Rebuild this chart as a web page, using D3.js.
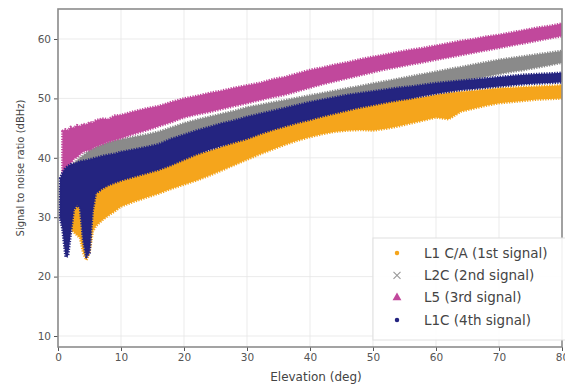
<!DOCTYPE html>
<html>
<head>
<meta charset="utf-8">
<script src="https://cdn.jsdelivr.net/npm/d3@7"></script>
<style>
  body { margin: 0; background: #fff; }
  svg { display: block; font-family: "DejaVu Sans", sans-serif; }
</style>
</head>
<body>
<svg id="chart" width="565" height="386"></svg>
<script>
// elevation grid (deg) shared by all bands
const elevation = [0.3, 0.7, 1.2, 1.6, 2.0, 2.5, 3.0, 3.5, 4.0, 4.5, 5.0, 5.5, 6, 7, 8, 9, 10,
  12, 14, 16, 18, 20, 22, 24, 26, 28, 30, 32, 34, 36, 38, 40, 42, 44, 46, 48, 50,
  52, 54, 56, 58, 60, 62, 64, 66, 68, 70, 72, 74, 76, 78, 80];

// L1 C/A (1st signal) upper / lower SNR envelope, null = no data
const l1caHigh = [null, null, 33.0, 33.5, 34.0, 34.3, 34.6, 34.8, 35.0, 35.2, 35.3, 35.4, 35.5, 35.7, 36.0, 36.4, 36.8,
  37.4, 38.0, 38.6, 39.4, 40.1, 40.7, 41.2, 41.9, 42.8, 43.6, 44.4, 45.2, 45.9, 46.6, 47.3, 48.0, 48.5, 49.0, 49.3, 49.5,
  49.7, 49.8, 50.0, 50.2, 50.6, 50.9, 51.1, 51.3, 51.5, 51.7, 51.8, 51.9, 52.0, 52.1, 52.2];
const l1caLow = [null, null, 25.0, 26.5, 28.0, 27.5, 27.0, 26.5, 24.0, 22.8, 24.0, 27.5, 28.5, 29.5, 30.3, 31.0, 31.8,
  32.6, 33.3, 34.0, 34.8, 35.5, 36.2, 37.0, 37.9, 38.8, 39.7, 40.6, 41.4, 42.2, 42.9, 43.5, 44.0, 44.4, 44.6, 44.7, 44.6,
  44.9, 45.3, 45.8, 46.3, 46.8, 46.5, 47.8, 48.3, 48.8, 49.2, 49.4, 49.6, 49.8, 49.9, 50.0];

// L2C (2nd signal)
const l2cHigh = [35.0, 36.5, 37.5, 38.0, 38.5, 39.0, 39.5, 40.0, 40.4, 40.8, 41.2, 41.5, 41.8, 42.2, 42.6, 42.9, 43.1,
  43.5, 43.9, 44.4, 45.1, 45.8, 46.4, 46.9, 47.4, 47.9, 48.5, 48.9, 49.3, 49.7, 50.1, 50.5, 50.9, 51.3, 51.7, 52.1, 52.5,
  52.9, 53.3, 53.7, 54.1, 54.5, 54.9, 55.3, 55.7, 56.1, 56.5, 56.8, 57.1, 57.4, 57.7, 58.0];
const l2cLow = [30.0, 29.0, 25.0, 26.0, 30.0, 33.0, 34.0, 33.0, 27.0, 23.3, 25.0, 33.0, 35.5, 36.5, 37.0, 37.4, 37.8,
  38.5, 39.2, 39.9, 40.7, 41.5, 42.3, 43.0, 43.6, 44.2, 44.8, 45.4, 45.9, 46.4, 46.9, 47.4, 47.9, 48.4, 48.8, 49.3, 49.7,
  50.2, 50.6, 51.1, 51.5, 52.0, 52.4, 52.8, 53.3, 53.7, 54.1, 54.5, 54.8, 55.2, 55.6, 56.0];

// L5 (3rd signal)
const l5High = [null, 44.5, 44.8, 44.6, 45.2, 45.0, 45.5, 45.3, 45.7, 45.6, 46.0, 45.9, 46.3, 46.6, 46.5, 47.1, 47.2,
  47.8, 48.3, 48.7, 49.4, 50.0, 50.4, 50.9, 51.3, 51.8, 52.2, 52.6, 53.2, 53.6, 54.2, 54.8, 55.2, 55.7, 56.1, 56.6, 57.0,
  57.4, 57.8, 58.2, 58.5, 58.9, 59.3, 59.7, 60.0, 60.4, 60.7, 61.1, 61.5, 61.9, 62.2, 62.6];
const l5Low = [null, 36.0, 37.5, 38.5, 39.0, 39.8, 40.1, 40.6, 41.0, 41.2, 41.3, 41.6, 41.9, 42.3, 42.7, 43.0, 43.3,
  44.0, 44.6, 45.3, 46.0, 46.8, 47.3, 47.7, 48.2, 48.7, 49.2, 49.7, 50.2, 50.6, 51.2, 51.8, 52.4, 52.9, 53.4, 53.9, 54.4,
  54.9, 55.3, 55.7, 56.1, 56.5, 56.9, 57.3, 57.7, 58.1, 58.5, 58.9, 59.3, 59.7, 60.1, 60.5];

// L1C (4th signal)
const l1cHigh = [36.5, 37.5, 38.3, 38.6, 38.9, 39.0, 39.2, 39.4, 39.5, 39.6, 39.7, 39.9, 40.0, 40.3, 40.5, 40.7, 41.0,
  41.4, 41.8, 42.3, 43.2, 43.9, 44.6, 45.2, 45.8, 46.3, 46.9, 47.4, 47.9, 48.4, 48.9, 49.4, 49.8, 50.2, 50.6, 50.9, 51.2,
  51.5, 51.8, 52.0, 52.3, 52.6, 52.8, 53.0, 53.2, 53.4, 53.6, 53.8, 54.0, 54.1, 54.2, 54.3];
const l1cLow = [30.0, 28.0, 23.3, 23.5, 27.0, 31.2, 32.0, 31.5, 26.0, 23.3, 24.0, 31.0, 34.0, 34.8, 35.4, 35.8, 36.2,
  36.8, 37.4, 38.0, 38.8, 39.7, 40.6, 41.3, 42.0, 42.6, 43.2, 44.0, 44.7, 45.3, 45.9, 46.4, 47.0, 47.5, 48.0, 48.5, 48.9,
  49.3, 49.7, 50.0, 50.4, 50.8, 51.1, 51.4, 51.6, 51.8, 52.0, 52.2, 52.4, 52.5, 52.6, 52.7];

const seriesNames = ["L1 C/A (1st signal)", "L2C (2nd signal)", "L5 (3rd signal)", "L1C (4th signal)"];
const xTicks = [0, 10, 20, 30, 40, 50, 60, 70, 80];
const yTicks = [10, 20, 30, 40, 50, 60];

const series = [
  { name: seriesNames[0], high: l1caHigh, low: l1caLow, color: "#f5a51c" },
  { name: seriesNames[1], high: l2cHigh, low: l2cLow, color: "#8a8a8a" },
  { name: seriesNames[2], high: l5High, low: l5Low, color: "#c1489c" },
  { name: seriesNames[3], high: l1cHigh, low: l1cLow, color: "#242480" }
];

const width = 565, height = 386;
const margin = { top: 9, right: 3, bottom: 39, left: 58 };

const svg = d3.select("#chart");

const x = d3.scaleLinear().domain([0, 80])
  .range([margin.left, width - margin.right]);
const y = d3.scaleLinear().domain([8.15, 65.05])
  .range([height - margin.bottom, margin.top]);

// grid
svg.append("g")
  .attr("stroke", "#e6e6e6")
  .attr("stroke-width", 0.8)
  .call(g => g.selectAll(".gx").data(xTicks).join("line")
    .attr("x1", d => x(d)).attr("x2", d => x(d))
    .attr("y1", margin.top).attr("y2", height - margin.bottom))
  .call(g => g.selectAll(".gy").data(yTicks).join("line")
    .attr("y1", d => y(d)).attr("y2", d => y(d))
    .attr("x1", margin.left).attr("x2", width - margin.right));

// bands
svg.append("defs").append("clipPath").attr("id", "clip")
  .append("rect")
  .attr("x", margin.left).attr("y", margin.top)
  .attr("width", width - margin.left - margin.right)
  .attr("height", height - margin.top - margin.bottom);

const area = d3.area()
  .defined(d => d.hi != null)
  .x(d => x(d.e))
  .y0(d => y(d.lo))
  .y1(d => y(d.hi));

const bands = svg.append("g").attr("clip-path", "url(#clip)");
series.forEach(s => {
  const rows = elevation.map((e, i) => ({ e, hi: s.high[i], lo: s.low[i] }));
  bands.append("path")
    .datum(rows)
    .attr("d", area)
    .attr("fill", s.color)
    .attr("stroke", s.color)
    .attr("stroke-width", 2.6)
    .attr("stroke-dasharray", "1.3 1.3")
    .attr("stroke-linejoin", "round");
});

// axes
const xAxis = svg.append("g")
  .attr("transform", `translate(0,${height - margin.bottom})`)
  .call(d3.axisBottom(x).tickValues(xTicks).tickSize(4).tickPadding(3));
const yAxis = svg.append("g")
  .attr("transform", `translate(${margin.left},0)`)
  .call(d3.axisLeft(y).tickValues(yTicks).tickSize(4).tickPadding(3));

[xAxis, yAxis].forEach(g => {
  g.select(".domain").remove();
  g.selectAll(".tick line").attr("stroke", "#555");
  g.selectAll(".tick text").attr("fill", "#555")
    .attr("font-family", "DejaVu Sans").attr("font-size", 10.5);
});

// frame
svg.append("rect")
  .attr("x", margin.left).attr("y", margin.top)
  .attr("width", width - margin.left - margin.right)
  .attr("height", height - margin.top - margin.bottom)
  .attr("fill", "none")
  .attr("stroke", "#8c8c8c")
  .attr("stroke-width", 1.6);

// axis titles
svg.append("text")
  .attr("x", 316).attr("y", 381)
  .attr("text-anchor", "middle")
  .attr("font-size", 12).attr("fill", "#444")
  .text("Elevation (deg)");
svg.append("text")
  .attr("transform", `translate(24,${(margin.top + height - margin.bottom) / 2 - 10}) rotate(-90)`)
  .attr("text-anchor", "middle")
  .attr("font-size", 10).attr("fill", "#444")
  .text("Signal to noise ratio (dBHz)");

// legend
const legend = svg.append("g");
legend.append("rect")
  .attr("x", 373).attr("y", 238)
  .attr("width", 195).attr("height", 102)
  .attr("fill", "#fff").attr("fill-opacity", 0.9)
  .attr("stroke", "#e0e0e0");

const rowY = d3.scalePoint().domain(seriesNames).range([253, 320]);
series.forEach((s, i) => {
  const cy = rowY(s.name);
  const g = legend.append("g").attr("transform", `translate(397,${cy})`);
  if (i === 1) {
    g.append("path")
      .attr("d", "M-3.5,-3.5L3.5,3.5M-3.5,3.5L3.5,-3.5")
      .attr("stroke", "#999").attr("stroke-width", 1.1);
  } else {
    g.append("path")
      .attr("d", d3.symbol().type(i === 2 ? d3.symbolTriangle : d3.symbolCircle)
        .size(i === 2 ? 34 : 16)())
      .attr("fill", s.color);
  }
  legend.append("text")
    .attr("x", 424).attr("y", cy + 4.5)
    .attr("font-size", 13.5).attr("fill", "#444")
    .text(s.name);
});
</script>
</body>
</html>
